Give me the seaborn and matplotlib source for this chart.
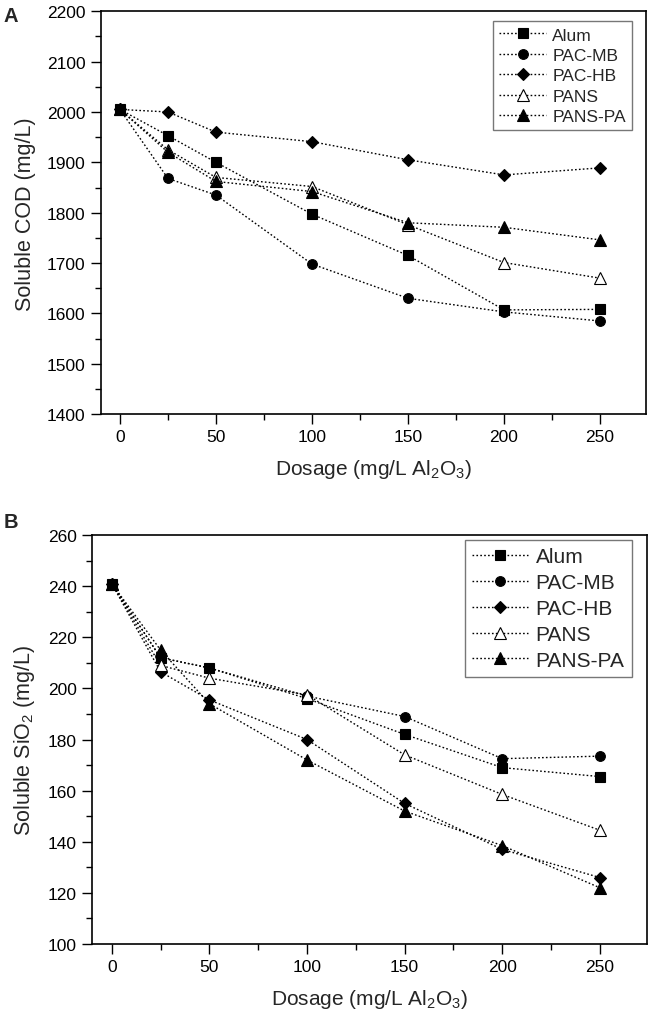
import matplotlib
matplotlib.use("Agg")
import matplotlib.pyplot as plt
from matplotlib.ticker import MultipleLocator
import seaborn as sns
import pandas as pd

# ---------------- data ----------------
dosage = [0, 25, 50, 100, 150, 200, 250]
series_names = ["Alum", "PAC-MB", "PAC-HB", "PANS", "PANS-PA"]

cod_alum = [2005, 1953, 1900, 1797, 1715, 1607, 1608]
cod_pacmb = [2005, 1868, 1835, 1698, 1630, 1603, 1585]
cod_pachb = [2005, 2000, 1960, 1941, 1905, 1875, 1889]
cod_pans = [2005, 1925, 1870, 1852, 1776, 1701, 1670]
cod_panspa = [2005, 1920, 1862, 1842, 1780, 1771, 1746]

sio2_alum = [241, 212, 208, 196, 182, 169, 165.5]
sio2_pacmb = [241, 212, 208, 197, 189, 172.5, 173.5]
sio2_pachb = [241, 206.5, 195.5, 180, 155, 137, 126]
sio2_pans = [241, 209, 204, 197.5, 174, 158.5, 144.5]
sio2_panspa = [241, 215, 194, 172, 152, 138.5, 122]

cod_values = [cod_alum, cod_pacmb, cod_pachb, cod_pans, cod_panspa]
sio2_values = [sio2_alum, sio2_pacmb, sio2_pachb, sio2_pans, sio2_panspa]

# ---------------- style ----------------
sns.set_style("ticks")
plt.rcParams["font.family"] = ["Liberation Sans", "DejaVu Sans"]
plt.rcParams["mathtext.fontset"] = "custom"
plt.rcParams["mathtext.rm"] = "Liberation Sans"
plt.rcParams["mathtext.it"] = "Liberation Sans"
plt.rcParams["mathtext.default"] = "regular"

markers = {"Alum": "s", "PAC-MB": "o", "PAC-HB": "D", "PANS": "^", "PANS-PA": "^"}
facecolors = {"Alum": "black", "PAC-MB": "black", "PAC-HB": "black",
              "PANS": "white", "PANS-PA": "black"}
msizes = {"Alum": 6.5, "PAC-MB": 7, "PAC-HB": 6, "PANS": 8, "PANS-PA": 8}

fig = plt.figure(figsize=(6.54, 10.2), dpi=100)
axA = fig.add_axes([0.154, 0.593, 0.834, 0.395])
axB = fig.add_axes([0.141, 0.0735, 0.848, 0.401])


def draw(ax, values, ylim, ymajor, yminor, ylabel, legend_fs, bbox, lspace):
    for name, vals in zip(series_names, values):
        df = pd.DataFrame({"x": dosage, "y": vals})
        sns.lineplot(data=df, x="x", y="y", ax=ax, color="black",
                     linestyle=(0, (1.2, 1.6)), linewidth=1.0,
                     marker=markers[name], markersize=msizes[name],
                     markerfacecolor=facecolors[name], markeredgecolor="black",
                     markeredgewidth=0.8, label=name)
    ax.set_xlim(-10, 274)
    ax.set_ylim(*ylim)
    ax.xaxis.set_major_locator(MultipleLocator(50))
    ax.xaxis.set_minor_locator(MultipleLocator(25))
    ax.yaxis.set_major_locator(MultipleLocator(ymajor))
    ax.yaxis.set_minor_locator(MultipleLocator(yminor))
    ax.tick_params(which="both", direction="out", top=False, right=False,
                   width=1.0, colors="black")
    ax.tick_params(which="major", length=7, labelsize=12.5, pad=4)
    ax.tick_params(which="minor", length=4)
    for s in ax.spines.values():
        s.set_visible(True)
        s.set_linewidth(1.2)
        s.set_color("black")
    ax.set_xlabel("Dosage (mg/L Al$_2$O$_3$)", fontsize=15, labelpad=9)
    ax.set_ylabel(ylabel, fontsize=15.5, labelpad=8)
    leg = ax.legend(loc="upper right", bbox_to_anchor=bbox, borderaxespad=0,
                    fontsize=legend_fs, frameon=True, fancybox=False,
                    handlelength=2.7, handletextpad=0.35, labelspacing=lspace,
                    borderpad=0.35)
    leg.get_frame().set_edgecolor("#555555")
    leg.get_frame().set_linewidth(1.0)


draw(axA, cod_values, (1400, 2200), 100, 50, "Soluble COD (mg/L)", 12.5,
     (0.974, 0.975), 0.3)
draw(axB, sio2_values, (100, 260), 20, 10, "Soluble SiO$_2$ (mg/L)", 15,
     (0.973, 0.988), 0.33)

fig.text(0.006, 0.993, "A", fontsize=14.5, fontweight="bold", va="top")
fig.text(0.006, 0.497, "B", fontsize=14.5, fontweight="bold", va="top")

fig.savefig("out.png", dpi=100)
